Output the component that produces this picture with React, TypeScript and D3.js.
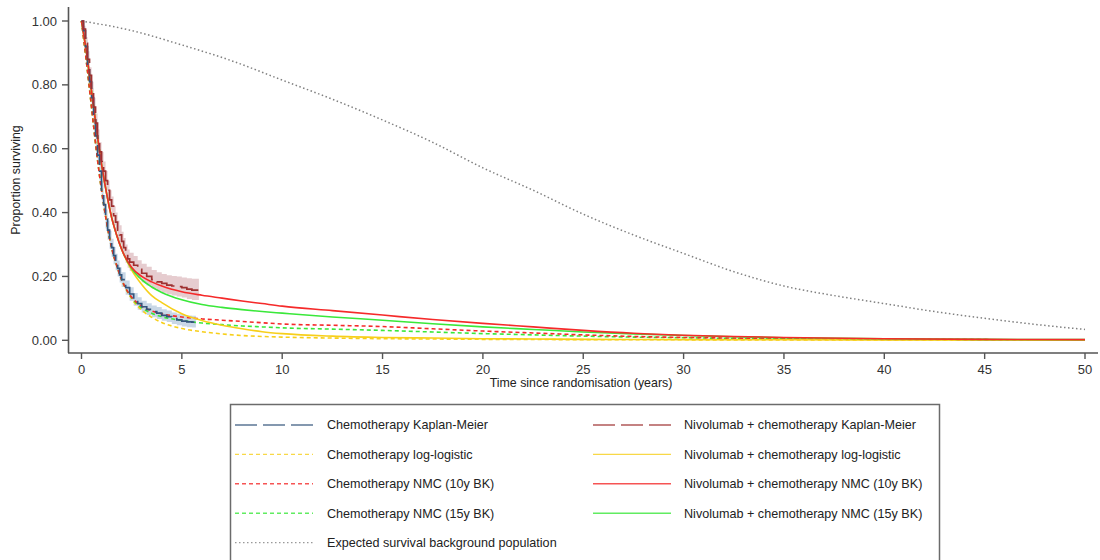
import React from "react";
import * as d3 from "d3";

// ---------- DATA ----------
const xTicks = [0, 5, 10, 15, 20, 25, 30, 35, 40, 45, 50];
const yTicks = [0, 0.2, 0.4, 0.6, 0.8, 1.0];

// Kaplan-Meier, chemotherapy
const chemoKmTime = [0, 0.1, 0.2, 0.3, 0.4, 0.5, 0.6, 0.7, 0.8, 0.9, 1.0, 1.1, 1.2, 1.3, 1.4, 1.5, 1.6, 1.7, 1.8, 1.9, 2.0, 2.2, 2.4, 2.6, 2.8, 3.0, 3.25, 3.5, 3.75, 4.0, 4.25, 4.5, 4.75, 5.0, 5.25, 5.5, 5.7];
const chemoKmSurv = [1.0, 0.97, 0.92, 0.86, 0.81, 0.76, 0.7, 0.64, 0.58, 0.53, 0.47, 0.425, 0.38, 0.345, 0.315, 0.29, 0.265, 0.245, 0.225, 0.205, 0.19, 0.165, 0.145, 0.128, 0.115, 0.105, 0.097, 0.09, 0.085, 0.078, 0.074, 0.068, 0.064, 0.06, 0.058, 0.057, 0.057];
const chemoKmLower = [1.0, 0.955, 0.9, 0.835, 0.785, 0.73, 0.67, 0.61, 0.55, 0.5, 0.44, 0.395, 0.35, 0.315, 0.287, 0.262, 0.238, 0.219, 0.2, 0.181, 0.167, 0.143, 0.124, 0.108, 0.096, 0.087, 0.079, 0.072, 0.067, 0.061, 0.057, 0.051, 0.047, 0.043, 0.041, 0.04, 0.04];
const chemoKmUpper = [1.0, 0.98, 0.94, 0.885, 0.835, 0.79, 0.73, 0.67, 0.61, 0.56, 0.5, 0.455, 0.41, 0.375, 0.343, 0.318, 0.292, 0.271, 0.25, 0.229, 0.213, 0.187, 0.166, 0.148, 0.135, 0.124, 0.116, 0.109, 0.104, 0.097, 0.093, 0.087, 0.083, 0.079, 0.078, 0.077, 0.077];

// Kaplan-Meier, nivolumab + chemotherapy
const nivoKmTime = [0, 0.1, 0.2, 0.3, 0.4, 0.5, 0.6, 0.7, 0.8, 0.9, 1.0, 1.1, 1.2, 1.3, 1.4, 1.5, 1.6, 1.7, 1.8, 1.9, 2.0, 2.1, 2.2, 2.3, 2.4, 2.6, 2.8, 3.0, 3.25, 3.5, 3.75, 4.0, 4.25, 4.5, 4.75, 5.0, 5.25, 5.5, 5.85];
const nivoKmSurv = [1.0, 0.975, 0.93, 0.88, 0.83, 0.78, 0.73, 0.68, 0.63, 0.59, 0.56, 0.53, 0.5, 0.47, 0.44, 0.42, 0.39, 0.37, 0.345, 0.33, 0.31, 0.29, 0.27, 0.255, 0.245, 0.235, 0.222, 0.21, 0.2, 0.19, 0.183, 0.178, 0.173, 0.17, 0.168, 0.165, 0.16, 0.157, 0.157];
const nivoKmLower = [1.0, 0.96, 0.91, 0.855, 0.805, 0.75, 0.7, 0.65, 0.6, 0.56, 0.53, 0.5, 0.47, 0.44, 0.41, 0.39, 0.36, 0.34, 0.315, 0.3, 0.28, 0.261, 0.242, 0.227, 0.217, 0.207, 0.194, 0.182, 0.172, 0.162, 0.155, 0.149, 0.144, 0.14, 0.137, 0.134, 0.129, 0.126, 0.126];
const nivoKmUpper = [1.0, 0.985, 0.95, 0.905, 0.855, 0.81, 0.76, 0.71, 0.66, 0.62, 0.59, 0.56, 0.53, 0.5, 0.47, 0.45, 0.42, 0.4, 0.375, 0.36, 0.34, 0.32, 0.3, 0.284, 0.274, 0.264, 0.251, 0.24, 0.23, 0.22, 0.213, 0.208, 0.204, 0.201, 0.2, 0.197, 0.194, 0.193, 0.193];

// Modelled curves (shared time grid, years)
const modelTime = [0, 0.25, 0.5, 0.75, 1, 1.25, 1.5, 1.75, 2, 2.5, 3, 3.5, 4, 5, 6, 7, 8, 9, 10, 12.5, 15, 17.5, 20, 22.5, 25, 27.5, 30, 32.5, 35, 40, 45, 50];
const chemoLogLogistic = [1, 0.87, 0.73, 0.59, 0.47, 0.37, 0.29, 0.235, 0.19, 0.13, 0.095, 0.072, 0.056, 0.037, 0.027, 0.02, 0.015, 0.012, 0.01, 0.007, 0.005, 0.004, 0.003, 0.0025, 0.002, 0.0018, 0.0015, 0.0013, 0.0012, 0.001, 0.0008, 0.0006];
const chemoNmc10 = [1, 0.87, 0.73, 0.59, 0.47, 0.37, 0.29, 0.235, 0.19, 0.135, 0.107, 0.092, 0.083, 0.073, 0.067, 0.063, 0.059, 0.055, 0.051, 0.047, 0.043, 0.036, 0.029, 0.023, 0.017, 0.012, 0.009, 0.007, 0.005, 0.003, 0.002, 0.001];
const chemoNmc15 = [1, 0.87, 0.73, 0.59, 0.47, 0.37, 0.29, 0.235, 0.19, 0.133, 0.102, 0.085, 0.074, 0.062, 0.054, 0.049, 0.045, 0.042, 0.039, 0.035, 0.031, 0.026, 0.021, 0.017, 0.013, 0.01, 0.008, 0.006, 0.005, 0.003, 0.002, 0.001];
const nivoLogLogistic = [1, 0.9, 0.78, 0.66, 0.55, 0.46, 0.385, 0.33, 0.285, 0.22, 0.175, 0.14, 0.118, 0.083, 0.062, 0.047, 0.036, 0.027, 0.021, 0.013, 0.009, 0.007, 0.005, 0.004, 0.003, 0.0025, 0.002, 0.0018, 0.0015, 0.001, 0.0008, 0.0006];
const nivoNmc10 = [1, 0.9, 0.78, 0.66, 0.55, 0.46, 0.385, 0.33, 0.285, 0.228, 0.2, 0.183, 0.17, 0.152, 0.141, 0.132, 0.123, 0.115, 0.107, 0.093, 0.079, 0.065, 0.053, 0.042, 0.031, 0.022, 0.016, 0.012, 0.009, 0.005, 0.003, 0.002];
const nivoNmc15 = [1, 0.9, 0.78, 0.66, 0.55, 0.46, 0.385, 0.33, 0.285, 0.225, 0.19, 0.167, 0.15, 0.127, 0.112, 0.103, 0.096, 0.09, 0.085, 0.073, 0.063, 0.052, 0.042, 0.034, 0.026, 0.02, 0.015, 0.011, 0.008, 0.005, 0.003, 0.002];

// Expected survival, background population
const bgTime = [0, 2.5, 5, 7.5, 10, 12.5, 15, 17.5, 20, 22.5, 25, 27.5, 30, 32.5, 35, 37.5, 40, 42.5, 45, 47.5, 50];
const bgSurv = [1.0, 0.97, 0.925, 0.875, 0.815, 0.755, 0.69, 0.62, 0.54, 0.47, 0.395, 0.33, 0.272, 0.215, 0.17, 0.14, 0.115, 0.09, 0.069, 0.05, 0.034];

const legendLeft = [
  "Chemotherapy Kaplan-Meier",
  "Chemotherapy log-logistic",
  "Chemotherapy NMC (10y BK)",
  "Chemotherapy NMC (15y BK)",
  "Expected survival background population",
];
const legendRight = [
  "Nivolumab + chemotherapy Kaplan-Meier",
  "Nivolumab + chemotherapy log-logistic",
  "Nivolumab + chemotherapy NMC (10y BK)",
  "Nivolumab + chemotherapy NMC (15y BK)",
];

// ---------- STYLES ----------
const BLUE_KM = "#34557c";
const RED_KM = "#9e3030";
const YELLOW = "#f7cf1a";
const RED = "#f52a2a";
const GREEN = "#3ae83a";
const GREY = "#808080";
const KM_DASH = "22,6";
const SHORT_DASH = "4,3";
const DOT = "1.5,2.5";
const FONT = "'Liberation Sans', Arial, sans-serif";

export default function App() {
  const x = d3.scaleLinear().domain([0, 50]).range([81.5, 1085]);
  const y = d3.scaleLinear().domain([0, 1]).range([340.3, 21]);

  const zip = (t: number[], v: number[]) => t.map((tt, i) => [tt, v[i]] as [number, number]);

  const smooth = d3
    .line<[number, number]>()
    .x((d) => x(d[0]))
    .y((d) => y(d[1]))
    .curve(d3.curveMonotoneX);
  const step = d3
    .line<[number, number]>()
    .x((d) => x(d[0]))
    .y((d) => y(d[1]))
    .curve(d3.curveStepAfter);
  const band = (t: number[], lo: number[], hi: number[]) =>
    d3
      .area<number>()
      .x((i) => x(t[i]))
      .y0((i) => y(lo[i]))
      .y1((i) => y(hi[i]))
      .curve(d3.curveStepAfter)(t.map((_, i) => i)) || "";

  const models = [
    { v: chemoLogLogistic, color: YELLOW, dash: SHORT_DASH },
    { v: chemoNmc15, color: GREEN, dash: SHORT_DASH },
    { v: chemoNmc10, color: RED, dash: SHORT_DASH },
    { v: nivoLogLogistic, color: YELLOW, dash: undefined },
    { v: nivoNmc15, color: GREEN, dash: undefined },
    { v: nivoNmc10, color: RED, dash: undefined },
  ];

  const legendLeftStyle = [
    { color: BLUE_KM, dash: KM_DASH },
    { color: YELLOW, dash: SHORT_DASH },
    { color: RED, dash: SHORT_DASH },
    { color: GREEN, dash: SHORT_DASH },
    { color: GREY, dash: DOT },
  ];
  const legendRightStyle = [
    { color: RED_KM, dash: KM_DASH },
    { color: YELLOW, dash: undefined },
    { color: RED, dash: undefined },
    { color: GREEN, dash: undefined },
  ];
  const rowY = (i: number) => 425 + i * 29.4;

  return (
    <svg
      width={1100}
      height={560}
      style={{ position: "absolute", left: 0, top: 0, background: "#fff" }}
      fontFamily={FONT}
    >
      <rect x={0} y={0} width={1100} height={560} fill="#fff" />
      {/* confidence bands */}
      <path d={band(chemoKmTime, chemoKmLower, chemoKmUpper)} fill="#bfd0e2" opacity={0.85} />
      <path d={band(nivoKmTime, nivoKmLower, nivoKmUpper)} fill="#e2c3c7" opacity={0.85} />

      {/* background population */}
      <path d={smooth(zip(bgTime, bgSurv)) || ""} fill="none" stroke={GREY} strokeWidth={1.5} strokeDasharray={DOT} />

      {/* modelled curves */}
      {models.map((m, i) => (
        <path
          key={i}
          d={smooth(zip(modelTime, m.v)) || ""}
          fill="none"
          stroke={m.color}
          strokeWidth={1.6}
          strokeDasharray={m.dash}
        />
      ))}

      {/* KM curves */}
      <path d={step(zip(chemoKmTime, chemoKmSurv)) || ""} fill="none" stroke={BLUE_KM} strokeWidth={1.7} strokeDasharray={KM_DASH} />
      <path d={step(zip(nivoKmTime, nivoKmSurv)) || ""} fill="none" stroke={RED_KM} strokeWidth={1.7} strokeDasharray={KM_DASH} />

      {/* axes */}
      <line x1={68.5} x2={68.5} y1={7} y2={353} stroke="#555" strokeWidth={1.6} />
      <line x1={68} x2={1098} y1={353} y2={353} stroke="#555" strokeWidth={1.6} />
      {yTicks.map((t) => (
        <g key={t}>
          <line x1={62} x2={68.5} y1={y(t)} y2={y(t)} stroke="#555" strokeWidth={1.4} />
          <text x={57} y={y(t)} dy="0.35em" textAnchor="end" fontSize={13} fill="#333">
            {d3.format(".2f")(t)}
          </text>
        </g>
      ))}
      {xTicks.map((t) => (
        <g key={t}>
          <line x1={x(t)} x2={x(t)} y1={353} y2={359} stroke="#555" strokeWidth={1.4} />
          <text x={x(t)} y={374} textAnchor="middle" fontSize={13} fill="#333">
            {t}
          </text>
        </g>
      ))}
      <text x={581} y={387} textAnchor="middle" fontSize={12.4} fill="#222">
        Time since randomisation (years)
      </text>
      <text
        transform="translate(20,180) rotate(-90)"
        textAnchor="middle"
        fontSize={12.4}
        fill="#222"
      >
        Proportion surviving
      </text>

      {/* legend */}
      <rect x={230.5} y={404.5} width={709} height={200} fill="#fff" stroke="#6b6b6b" strokeWidth={1.5} />
      {legendLeft.map((label, i) => (
        <g key={label}>
          <line
            x1={235}
            x2={313}
            y1={rowY(i)}
            y2={rowY(i)}
            stroke={legendLeftStyle[i].color}
            strokeWidth={1.4}
            strokeDasharray={legendLeftStyle[i].dash}
            opacity={0.8}
          />
          <text x={327} y={rowY(i)} dy="0.35em" fontSize={12.6} fill="#222">
            {label}
          </text>
        </g>
      ))}
      {legendRight.map((label, i) => (
        <g key={label}>
          <line
            x1={593}
            x2={671}
            y1={rowY(i)}
            y2={rowY(i)}
            stroke={legendRightStyle[i].color}
            strokeWidth={1.4}
            strokeDasharray={legendRightStyle[i].dash}
            opacity={0.8}
          />
          <text x={684} y={rowY(i)} dy="0.35em" fontSize={12.6} fill="#222">
            {label}
          </text>
        </g>
      ))}
    </svg>
  );
}
